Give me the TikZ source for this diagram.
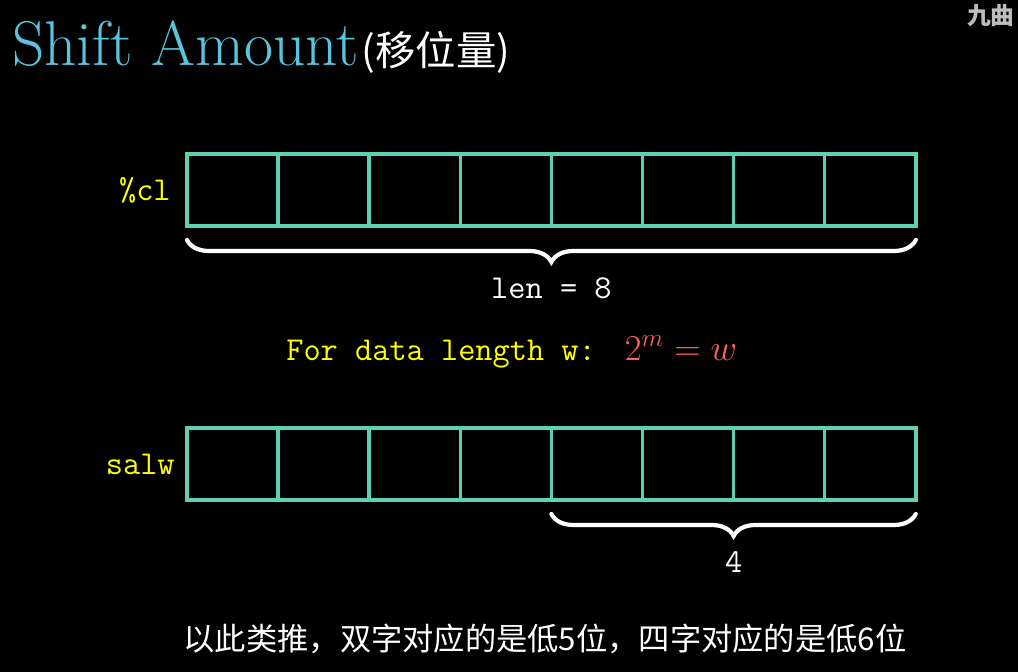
\documentclass[tikz,border=0pt]{standalone}
\usepackage{fontspec}
\usepackage{xcolor}
\usetikzlibrary{positioning, decorations.pathreplacing, calc}
\newfontfamily\cjk{Noto Sans CJK SC}
\definecolor{mblue}{HTML}{58C4DD}
\definecolor{mteal}{HTML}{5CD0B3}
\definecolor{myellow}{HTML}{FFFF00}
\definecolor{mred}{HTML}{FC6255}
\definecolor{mgray}{HTML}{BDBDBD}
\tikzset{
  cell/.style={rectangle, draw=mteal, line width=2pt, minimum width=1.822cm,
               minimum height=1.44cm, inner sep=0pt, outer sep=0pt},
  reg/.style={text=myellow, inner sep=0pt, font=\fontsize{19}{22}\selectfont\ttfamily},
  mono/.style={text=white, inner sep=0pt, font=\fontsize{19}{22}\selectfont\ttfamily},
  bracedn/.style={draw=white, line width=2.4pt, line cap=round, decorate,
                  decoration={brace, mirror, amplitude=0.44cm}}
}

\begin{document}
\begin{tikzpicture}[x=0.02cm, y=-0.02cm]
  \fill[black] (0,0) rectangle (1018,672);
  \useasboundingbox (0,0) rectangle (1018,672);

  \node[anchor=base west, inner sep=0pt, text=mblue, font=\fontsize{36}{40}\selectfont] (title) at (12,66) {Shift Amount};
  \node[anchor=base west, inner sep=0pt, text=white, font=\cjk\fontsize{23}{26}\selectfont] (sub) at ($(title.base east)+(2,0)$) {(移位量)};
  \node[anchor=north east, inner sep=0pt, text=mgray, font=\cjk\bfseries\fontsize{13.5}{15}\selectfont] (mark) at (1015,4) {九曲};

  \foreach \i in {0,...,7} {
    \node[cell] (a\i) at ({187+91.1*(\i+0.5)},190) {};
    \node[cell] (b\i) at ({187+91.1*(\i+0.5)},464) {};
  }
  \node[reg, left=0.32cm of a0] (cl) {\%cl};
  \node[reg, left=0.24cm of b0] (salw) {salw};

  \draw[bracedn] ($(a0.south west)+(0,14)$) -- ($(a7.south east)+(0,14)$)
    node[mono, midway, below=0.72cm] (len) {len = 8};
  \draw[bracedn] ($(b4.south west)+(0,14)$) -- ($(b7.south east)+(0,14)$)
    node[mono, midway, below=0.72cm] (four) {4};

  \node[anchor=base west, inner sep=0pt, font=\fontsize{19}{22}\selectfont] (rule) at (286,360)
    {\color{myellow}\ttfamily For data length w:\ \ \hspace{-3pt}\color{mred}\fontsize{21.5}{24}\selectfont$2^m=w$};

  \node[anchor=base, inner sep=0pt, text=white, font=\cjk\fontsize{17.8}{20}\selectfont] (note) at (545,650)
    {以此类推，双字对应的是低5位，四字对应的是低6位};
\end{tikzpicture}
\end{document}
